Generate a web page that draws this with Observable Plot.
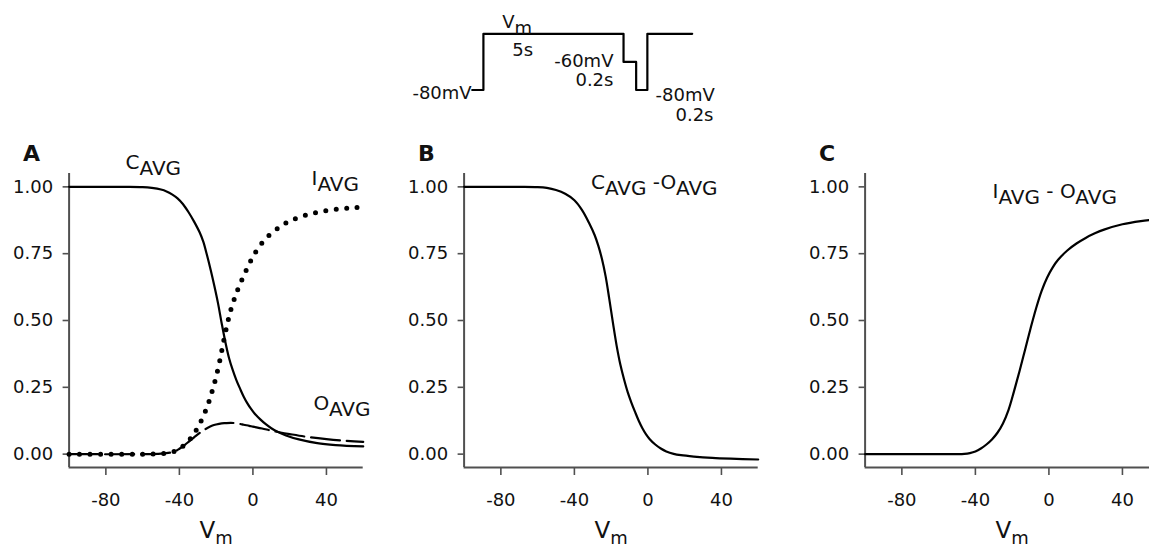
<!DOCTYPE html>
<html><head><meta charset="utf-8">
<script src="https://cdn.jsdelivr.net/npm/d3@7"></script>
<script src="https://cdn.jsdelivr.net/npm/@observablehq/plot@0.6"></script>
<style>
body{margin:0;background:#fff;}
#root{position:relative;width:1149px;height:548px;overflow:hidden;background:#fff;}
#root svg{position:absolute;overflow:visible;}
</style></head><body><div id="root"></div>
<script>
// ---------- data ----------
const xTicks = [-80, -40, 0, 40];
const yTicks = [0, 0.25, 0.5, 0.75, 1];

// Panel A: C_AVG (solid)
const cAvgV = [-100,-70,-60,-55,-50,-47,-44,-41,-38,-35,-32,-29,-27,-25,-23,-21,-19,-17,-15,-13,-11,-9,-7,-5,-3,-1,1,4,7,10,14,18,25,35,45,60];
const cAvgY = [1,1,0.999,0.996,0.99,0.983,0.972,0.957,0.935,0.905,0.87,0.83,0.795,0.745,0.69,0.63,0.565,0.49,0.42,0.36,0.315,0.277,0.245,0.215,0.19,0.169,0.151,0.13,0.112,0.097,0.082,0.07,0.055,0.041,0.034,0.029];
// Panel A: I_AVG (dotted)
const iAvgV = [-100,-60,-50,-45,-42,-40,-38,-36,-34,-32,-30,-28,-26,-24,-22,-20,-18,-16,-14,-12,-10,-8,-6,-4,-2,0,4,9,15,20,26,32,38,44,50,55,60];
const iAvgY = [0,0,0.002,0.006,0.012,0.02,0.03,0.043,0.058,0.077,0.1,0.127,0.158,0.195,0.24,0.29,0.35,0.42,0.485,0.54,0.583,0.62,0.652,0.683,0.712,0.738,0.782,0.82,0.852,0.872,0.888,0.9,0.909,0.915,0.919,0.922,0.925];
// Panel A: O_AVG (dashed)
const oAvgV = [-100,-60,-50,-45,-42,-40,-37,-35,-32,-30,-27,-25,-22,-20,-17,-15,-12,-10,-7,-5,-2,0,5,10,15,20,30,40,50,60];
const oAvgY = [0,0,0.002,0.006,0.012,0.02,0.035,0.046,0.063,0.074,0.089,0.097,0.107,0.111,0.115,0.116,0.117,0.116,0.113,0.11,0.106,0.103,0.096,0.088,0.081,0.075,0.064,0.056,0.05,0.046];
// Panel B: C_AVG - O_AVG
const bV = [-100,-70,-60,-55,-50,-45,-40,-36,-32,-29,-27,-25,-23,-21,-19,-17,-15,-13,-11,-9,-7,-5,-3,-1,1,4,7,10,14,18,25,35,45,60];
const bY = [1,1,0.999,0.996,0.988,0.974,0.95,0.915,0.865,0.82,0.78,0.73,0.665,0.58,0.49,0.405,0.335,0.28,0.232,0.193,0.158,0.125,0.097,0.074,0.056,0.036,0.021,0.01,0.001,-0.004,-0.009,-0.014,-0.017,-0.02];
// Panel C: I_AVG - O_AVG
const cV = [-100,-60,-50,-46,-43,-40,-37,-34,-31,-28,-25,-22,-19,-16,-13,-10,-7,-4,-1,2,5,10,15,20,25,30,40,50,60];
const cY = [0,0,0,0.001,0.004,0.01,0.021,0.036,0.055,0.08,0.115,0.165,0.235,0.31,0.39,0.47,0.545,0.61,0.66,0.698,0.727,0.762,0.788,0.809,0.826,0.84,0.86,0.872,0.88];

// Protocol schematic (time in s-like schematic units, voltage in mV; "Vm" drawn at -40)
const protoT = [0,0.4,0.4,5.4,5.4,5.85,5.85,6.25,6.25,7.85];
const protoV = [-80,-80,-40,-40,-60,-60,-80,-80,-40,-40];
const protoStartText = ["V{m}", "5s", "-80mV"];
const protoStartT = [1.07, 1.43, 6.54];
const protoStartV = [-36.0, -55.5, -87.5];
const protoEndText = ["-80mV", "-60mV", "0.2s", "0.2s"];
const protoEndT = [-0.02, 5.04, 5.04, 8.61];
const protoEndV = [-86.3, -63.3, -77.0, -102.0];

// curve labels
const labelsA = ["C{AVG}", "I{AVG}", "O{AVG}"];
const labelsAV = [-69.3, 31.9, 33];
const labelsAY = [1.068, 1.006, 0.165];
const labelB = ["C{AVG} -O{AVG}"]; const labelBV = [-31]; const labelBY = [0.991];
const labelC = ["I{AVG} - O{AVG}"]; const labelCV = [-30.7]; const labelCY = [0.96];
const panelLetters = ["A", "B", "C"];

// ---------- helpers ----------
const zipXY = (xs, ys) => xs.map((x, i) => ({x, y: ys[i]}));
const zipLab = (ts, xs, ys) => ts.map((t, i) => ({t, x: xs[i], y: ys[i]}));
const AX = "#505050";
const FONT = "DejaVu Sans";

function subscriptify(svg) {
  d3.select(svg).selectAll("text").each(function () {
    const s = this.textContent;
    if (!/[{<]/.test(s)) return;
    const el = d3.select(this);
    el.text(null);
    const parts = s.split(/(\{[^}]*\}|<[^>]*>)/).filter(p => p);
    let shifted = false;
    for (const p of parts) {
      if (p[0] === "{" || p[0] === "<") {
        const ts = el.append("tspan").attr("dy", shifted ? 0 : 6).text(p.slice(1, -1));
        if (p[0] === "<") ts.attr("font-size", "0.78em");
        shifted = true;
      } else {
        el.append("tspan").attr("dy", shifted ? -6 : 0).text(p);
        shifted = false;
      }
    }
  });
}

const root = document.getElementById("root");

function panel(left, letter, lineMarks, labelData) {
  const svg = Plot.plot({
    width: 400, height: 418,
    marginLeft: 68.6, marginRight: 37.3, marginTop: 43, marginBottom: 81,
    style: {fontFamily: FONT, background: "transparent", overflow: "visible", color: "black"},
    x: {domain: [-100, 60], axis: null},
    y: {domain: [-0.05, 1.05], axis: null},
    marks: [
      Plot.axisY({ticks: yTicks, tickFormat: d3.format(".2f"), tickSize: 6, tickPadding: 10,
        stroke: AX, strokeWidth: 1.6, fill: "#111", fontSize: 18, label: null}),
      Plot.axisX({ticks: xTicks, tickFormat: d => String(d), tickSize: 8, tickPadding: 18,
        stroke: AX, strokeWidth: 1.6, fill: "#111", fontSize: 18, label: null}),
      Plot.ruleX([-100], {stroke: AX, strokeWidth: 2}),
      Plot.ruleY([-0.05], {stroke: AX, strokeWidth: 2}),
      ...lineMarks,
      Plot.text(labelData, {x: "x", y: "y", text: "t", textAnchor: "start", lineAnchor: "bottom",
        fontSize: 20, fill: "#111"}),
      Plot.text(["V<m>"], {frameAnchor: "bottom", dy: 70, lineAnchor: "bottom", fontSize: 23, fill: "#111"}),
      Plot.text([letter], {frameAnchor: "top-left", dx: -46, dy: -13, textAnchor: "start",
        lineAnchor: "bottom", fontSize: 22, fontWeight: "bold", fill: "#111"})
    ]
  });
  subscriptify(svg);
  svg.style.left = left + "px";
  svg.style.top = "130px";
  root.appendChild(svg);
}

const solid = (xs, ys) => Plot.line(zipXY(xs, ys), {x: "x", y: "y", stroke: "black", strokeWidth: 2.2, curve: "catmull-rom"});

panel(0, panelLetters[0], [
  solid(cAvgV, cAvgY),
  Plot.line(zipXY(oAvgV, oAvgY), {x: "x", y: "y", stroke: "black", strokeWidth: 2.2, curve: "catmull-rom", strokeDasharray: "29 7"}),
  Plot.line(zipXY(iAvgV, iAvgY), {x: "x", y: "y", stroke: "black", strokeWidth: 5, curve: "catmull-rom", strokeDasharray: "0 10.5", strokeLinecap: "round"})
], zipLab(labelsA, labelsAV, labelsAY));

panel(394.7, panelLetters[1], [solid(bV, bY)], zipLab(labelB, labelBV, labelBY));
panel(795.7, panelLetters[2], [solid(cV, cY)], zipLab(labelC, labelCV, labelCY));

// protocol
const proto = Plot.plot({
  width: 1149, height: 130,
  marginLeft: 471.7, marginRight: 457.3, marginTop: 19.25, marginBottom: 26.45,
  style: {fontFamily: FONT, background: "transparent", overflow: "visible", color: "black"},
  x: {domain: [0, 7.85], axis: null},
  y: {domain: [-90, -30], axis: null},
  marks: [
    Plot.line(zipXY(protoT, protoV), {x: "x", y: "y", stroke: "black", strokeWidth: 2.2}),
    Plot.text(zipLab(protoStartText, protoStartT, protoStartV), {x: "x", y: "y", text: "t", textAnchor: "start", lineAnchor: "bottom", fontSize: 18, fill: "#111"}),
    Plot.text(zipLab(protoEndText, protoEndT, protoEndV), {x: "x", y: "y", text: "t", textAnchor: "end", lineAnchor: "bottom", fontSize: 18, fill: "#111"})
  ]
});
subscriptify(proto);
proto.style.left = "0px"; proto.style.top = "0px";
root.appendChild(proto);
</script>
</body></html>
